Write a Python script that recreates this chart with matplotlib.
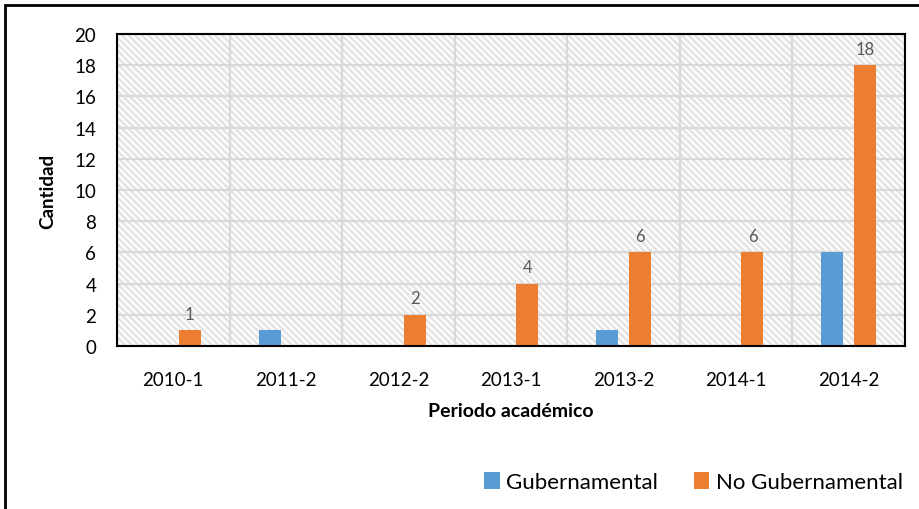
import matplotlib
matplotlib.use("Agg")
import matplotlib.pyplot as plt
import numpy as np
from matplotlib.patches import Rectangle

plt.rcParams['font.family'] = ['Lato', 'DejaVu Sans']
plt.rcParams['hatch.linewidth'] = 1.8
plt.rcParams['hatch.color'] = '#e3e3e3'

periods = ["2010-1", "2011-2", "2012-2", "2013-1", "2013-2", "2014-1", "2014-2"]
gubernamental = [0, 1, 0, 0, 1, 0, 6]
no_gubernamental = [1, 0, 2, 4, 6, 6, 18]
y_ticks = list(range(0, 21, 2))

W, H = 920, 510
fig = plt.figure(figsize=(W / 100, H / 100), dpi=100)
fig.patch.set_facecolor('white')

# outer chart border
fig.add_artist(Rectangle((5 / W, -0.1), 1.2, (510 - 6) / H + 0.1, transform=fig.transFigure,
                         fill=False, edgecolor='black', linewidth=2.0, zorder=10))

ax = fig.add_axes([117 / W, 1 - 347 / H, (905 - 117) / W, (347 - 35) / H])
ax.set_facecolor('white')

x = np.arange(len(periods))
ax.set_xlim(-0.5, len(periods) - 0.5)
ax.set_ylim(0, 20)

# hatched background
ax.add_patch(Rectangle((0, 0), 1, 1, transform=ax.transAxes, facecolor='white',
                       edgecolor='#e3e3e3', hatch='\\\\\\\\\\', linewidth=0, zorder=0))

# gridlines
for yv in y_ticks:
    ax.axhline(yv, color='#d9d9d9', linewidth=1.6, zorder=1)
for xv in np.arange(-0.5, len(periods), 1.0):
    ax.axvline(xv, color='#d9d9d9', linewidth=1.6, zorder=1)

bw = 0.195
off = 0.145
ax.bar(x - off, gubernamental, width=bw, color='#5b9bd5', label='Gubernamental', zorder=3)
ax.bar(x + off, no_gubernamental, width=bw, color='#ed7d31', label='No Gubernamental', zorder=3)

for xi, v in zip(x, no_gubernamental):
    if v > 0:
        ax.annotate(str(v), (xi + off, v), xytext=(0, 6), textcoords='offset points',
                    ha='center', va='bottom', fontsize=12, color='#595959')

ax.set_yticks(y_ticks)
ax.set_xticks(x)
ax.set_xticklabels(periods)
ax.tick_params(axis='both', length=0, labelsize=13.5, colors='black')
ax.tick_params(axis='y', pad=15)
ax.tick_params(axis='x', pad=18)

for s in ax.spines.values():
    s.set_color('black')
    s.set_linewidth(1.5)
    s.set_zorder(5)

ax.set_ylabel('Cantidad', fontsize=13.5, fontweight='bold', labelpad=13)
ax.set_xlabel('Periodo académico', fontsize=14, fontweight='bold', labelpad=10)

leg = fig.legend(loc='center right', bbox_to_anchor=(912 / W, 1 - 483 / H), ncol=2,
                 frameon=False, fontsize=16, handlelength=0.7, handleheight=0.8,
                 handletextpad=0.3, columnspacing=1.6, borderaxespad=0)

fig.savefig('out.png', dpi=100)
